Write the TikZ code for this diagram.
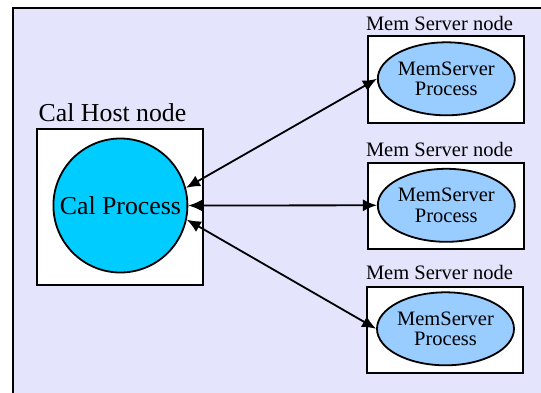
\documentclass[tikz,border=0pt]{standalone}
\usepackage{fontspec}
\setmainfont{Liberation Serif}
\usetikzlibrary{shapes.geometric,arrows.meta}

\definecolor{panelbg}{RGB}{228,228,252}
\definecolor{calfill}{RGB}{0,204,255}
\definecolor{memfill}{RGB}{153,204,255}

\tikzset{
  hostbox/.style={draw=black, line width=2pt, fill=white, rectangle, inner sep=0pt},
  calproc/.style={draw=black, line width=1.8pt, fill=calfill, circle, inner sep=0pt,
    minimum size=134pt, font=\rmfamily\fontsize{25.8}{26}\selectfont},
  memproc/.style={draw=black, line width=1.8pt, fill=memfill, ellipse, inner sep=0pt,
    minimum width=137pt, minimum height=73pt, align=center,
    font=\rmfamily\fontsize{20.5}{20.4}\selectfont},
  boxtitle/.style={anchor=base west, inner sep=0pt},
  link/.style={line width=1.8pt, {Latex[length=14pt,width=12pt]}-{Latex[length=14pt,width=12pt]}}
}

\begin{document}
\begin{tikzpicture}[x=1pt,y=-1pt]
  \useasboundingbox (0,0) rectangle (541,392);
  \clip (0,0) rectangle (541,392);

  % panel behind everything
  \draw[fill=panelbg, line width=2pt] (12.5,7.5) rectangle (560,410);

  % host side
  \node[hostbox, minimum width=166.5pt, minimum height=156.3pt] (hostbox) at (119.75,206.85) {};
  \node[boxtitle, font=\rmfamily\fontsize{25.8}{26}\selectfont] (hosttitle) at (38.5,121.7) {Cal Host node};
  \node[calproc] (cal) at (120.4,205.5) {Cal Process};

  % memory server boxes
  \node[hostbox, minimum width=156pt, minimum height=86.7pt] (box1) at (445.5,79.35) {};
  \node[hostbox, minimum width=156pt, minimum height=86.7pt] (box2) at (445.5,206) {};
  \node[hostbox, minimum width=156pt, minimum height=86.7pt] (box3) at (445,330) {};

  \node[boxtitle, font=\rmfamily\fontsize{20.5}{21}\selectfont] (title1) at (365.8,30) {Mem Server node};
  \node[boxtitle, font=\rmfamily\fontsize{20.5}{21}\selectfont] (title2) at (365.8,156) {Mem Server node};
  \node[boxtitle, font=\rmfamily\fontsize{20.5}{21}\selectfont] (title3) at (365.8,279.3) {Mem Server node};

  \node[memproc] (mem1) at (446.3,78.8) {MemServer\\Process};
  \node[memproc] (mem2) at (446.3,205.3) {MemServer\\Process};
  \node[memproc] (mem3) at (445.5,328.8) {MemServer\\Process};

  % links
  \draw[link] (cal.15) -- (mem1.west);
  \draw[link] (cal.east) -- (mem2.west);
  \draw[link] (cal.-12) -- (mem3.west);
\end{tikzpicture}
\end{document}
